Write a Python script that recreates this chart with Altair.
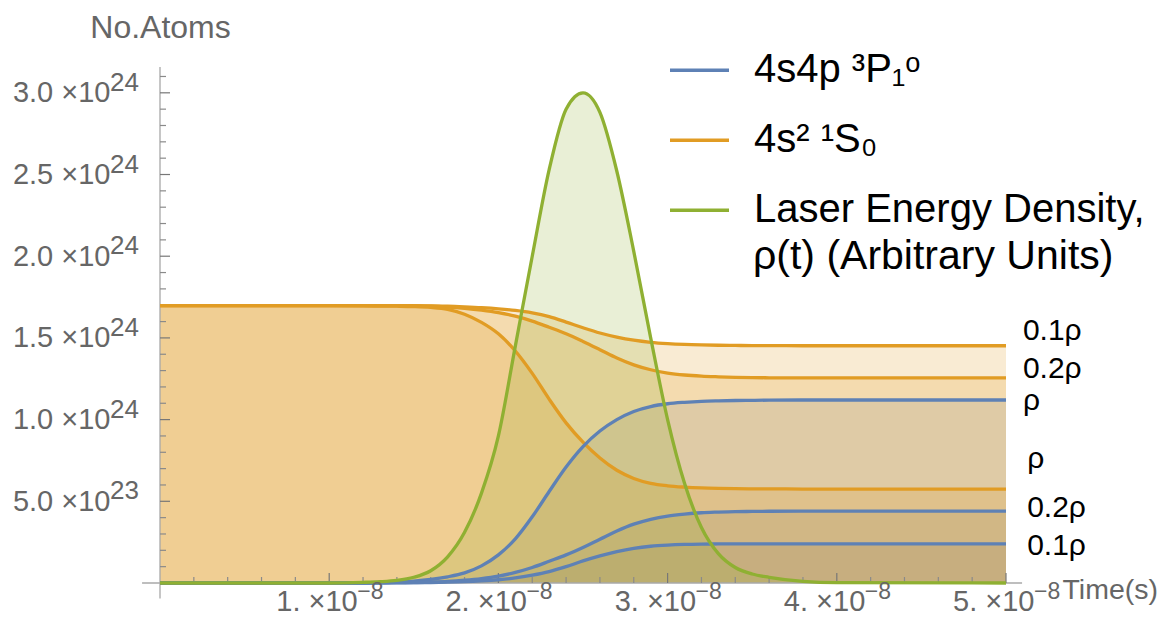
import altair as alt
import pandas as pd

# ---------------- data ----------------
# time grid, in units of 1e-8 s
t_grid = [0, 1.0, 1.2, 1.3, 1.4, 1.5, 1.6, 1.7, 1.8, 1.9, 2.0, 2.1, 2.2, 2.3, 2.4,
          2.5, 2.6, 2.7, 2.8, 2.9, 3.0, 3.1, 3.2, 3.3, 3.4, 3.5, 3.6, 3.8, 4.0, 5.0]

# number of atoms, in units of 1e24
orange_rho = [1.697, 1.697, 1.696, 1.695, 1.694, 1.692, 1.687, 1.675, 1.645, 1.595,
              1.525, 1.42, 1.283, 1.125, 0.98, 0.862, 0.765, 0.69, 0.64, 0.61,
              0.595, 0.587, 0.582, 0.579, 0.577, 0.576, 0.576, 0.575, 0.575, 0.575]
orange_02 = [1.697, 1.697, 1.697, 1.697, 1.697, 1.696, 1.694, 1.689, 1.681, 1.67,
             1.655, 1.633, 1.603, 1.565, 1.525, 1.478, 1.428, 1.377, 1.335, 1.305,
             1.285, 1.273, 1.266, 1.262, 1.259, 1.257, 1.256, 1.255, 1.255, 1.255]
orange_01 = [1.697, 1.697, 1.697, 1.697, 1.697, 1.697, 1.696, 1.694, 1.69, 1.685,
             1.678, 1.668, 1.653, 1.63, 1.597, 1.562, 1.53, 1.505, 1.486, 1.473,
             1.465, 1.46, 1.457, 1.455, 1.454, 1.453, 1.453, 1.452, 1.452, 1.452]
blue_rho = [0, 0, 0.001, 0.003, 0.006, 0.012, 0.022, 0.038, 0.062, 0.105,
            0.172, 0.27, 0.405, 0.56, 0.71, 0.835, 0.93, 1.0, 1.05, 1.08,
            1.097, 1.106, 1.112, 1.115, 1.117, 1.118, 1.119, 1.12, 1.12, 1.12]
blue_02 = [0, 0, 0, 0.001, 0.002, 0.003, 0.006, 0.01, 0.017, 0.027,
           0.042, 0.065, 0.095, 0.133, 0.172, 0.218, 0.268, 0.318, 0.36, 0.39,
           0.41, 0.422, 0.43, 0.434, 0.437, 0.438, 0.439, 0.44, 0.44, 0.44]
blue_01 = [0, 0, 0, 0, 0.001, 0.002, 0.003, 0.005, 0.008, 0.013,
           0.02, 0.031, 0.048, 0.07, 0.1, 0.135, 0.166, 0.192, 0.212, 0.225,
           0.232, 0.236, 0.238, 0.239, 0.24, 0.24, 0.24, 0.24, 0.24, 0.24]
laser = [0, 0, 0.004, 0.008, 0.016, 0.035, 0.075, 0.16, 0.31, 0.55,
         0.9, 1.45, 2.0, 2.53, 2.9, 3.0, 2.88, 2.52, 2.03, 1.5,
         1.0, 0.61, 0.34, 0.18, 0.095, 0.055, 0.035, 0.01, 0.002, 0]

state_blue = "4s4p ³P₁ᵒ"
state_orange = "4s² ¹S₀"
state_green = "Laser Energy Density,"
green_line2 = "ρ(t) (Arbitrary Units)"

# end-of-line annotations
label_text = ["0.1ρ", "0.2ρ", "ρ", "ρ", "0.2ρ", "0.1ρ"]
label_t = [5.10, 5.10, 5.10, 5.125, 5.125, 5.125]        # 1e-8 s
label_v = [1.542, 1.31, 1.111, 0.756, 0.459, 0.226]       # 1e24

# axis ticks and tick-label exponents
x_tick_labels = [1, 2, 3, 4, 5]                            # 1e-8 s
x_tick_exp = ["−8", "−8", "−8", "−8", "−8"]
x_minor_ticks = [0.2, 0.4, 0.6, 0.8, 1.2, 1.4, 1.6, 1.8, 2.2, 2.4, 2.6, 2.8,
                 3.2, 3.4, 3.6, 3.8, 4.2, 4.4, 4.6, 4.8]
y_tick_labels = [0.5, 1.0, 1.5, 2.0, 2.5, 3.0]             # 1e24
y_tick_exp = ["23", "24", "24", "24", "24", "24"]
y_minor_ticks = [0.1, 0.2, 0.3, 0.4, 0.6, 0.7, 0.8, 0.9, 1.1, 1.2, 1.3, 1.4,
                 1.6, 1.7, 1.8, 1.9, 2.1, 2.2, 2.3, 2.4, 2.6, 2.7, 2.8, 2.9, 3.1]

# ---------------- tables ----------------
series = [
    ("b1", state_blue, blue_rho),
    ("b02", state_blue, blue_02),
    ("b01", state_blue, blue_01),
    ("o01", state_orange, orange_01),
    ("o02", state_orange, orange_02),
    ("o1", state_orange, orange_rho),
    ("g", state_green, laser),
]
rows = []
for name, state, vals in series:
    for t, v in zip(t_grid, vals):
        rows.append({"t": t * 1e-8, "v": v * 1e24, "series": name, "state": state})
df = pd.DataFrame(rows)

df_lab = pd.DataFrame({"t": [x * 1e-8 for x in label_t],
                       "v": [y * 1e24 for y in label_v],
                       "text": label_text})
df_xmaj = pd.DataFrame({"t": [x * 1e-8 for x in x_tick_labels], "exp": x_tick_exp})
df_xmin = pd.DataFrame({"t": [x * 1e-8 for x in x_minor_ticks]})
df_ymaj = pd.DataFrame({"v": [y * 1e24 for y in y_tick_labels], "exp": y_tick_exp})
df_ymin = pd.DataFrame({"v": [y * 1e24 for y in y_minor_ticks]})
one = pd.DataFrame({"a": [0]})

# ---------------- styling ----------------
FONT = "Liberation Sans"
GRAY = "#666666"
AXIS_GRAY = "#a8a8a8"
BLUE, ORANGE, GREEN = "#5E81B5", "#E19C24", "#8FB032"
W, H = 846, 516

xscale = alt.Scale(domain=[0, 5e-8], nice=False, zero=False)
yscale = alt.Scale(domain=[0, 3.158e24], nice=False)
color_scale = alt.Scale(domain=[state_blue, state_orange, state_green],
                        range=[BLUE, ORANGE, GREEN])

x_axis = alt.Axis(
    values=[x * 1e-8 for x in x_tick_labels],
    labelExpr="format(datum.value * 1e8, '.0f') + '. ×10'",
    labelAlign="right", labelOffset=28,
    title="Time(s)", titleX=902, titleY=15, titleAlign="left",
    titleBaseline="alphabetic", titleFont=FONT, titleFontSize=28.5,
    titleFontWeight="normal", titleColor=GRAY,
    labelFont=FONT, labelFontSize=29, labelColor=GRAY, labelPadding=4,
    labelFlush=False, labelOverlap=False, labelBound=False,
    ticks=False, tickSize=0, domain=False, grid=False,
)
y_axis = alt.Axis(
    values=[y * 1e24 for y in y_tick_labels],
    labelExpr="datum.value < 9e23 ? '5.0 ×10' : format(datum.value / 1e24, '.1f') + ' ×10'",
    title="No.Atoms", titleAngle=0, titleX=0, titleY=-30, titleAlign="center",
    titleBaseline="alphabetic", titleFont=FONT, titleFontSize=32,
    titleFontWeight="normal", titleColor=GRAY,
    labelFont=FONT, labelFontSize=29, labelColor=GRAY, labelPadding=50,
    labelFlush=False, labelOverlap=False, labelBound=False,
    ticks=False, tickSize=0, domain=False, grid=False,
)

legend = alt.Legend(
    orient="none", legendX=508, legendY=-31.5, title=None,
    symbolType="stroke", symbolSize=3481, symbolStrokeWidth=3.3,
    labelFont=FONT, labelFontSize=40, labelColor="black", labelOffset=23,
    clipHeight=69.5, rowPadding=0, padding=0, labelLimit=800,
)


def X(field="t:Q"):
    return alt.X(field, scale=xscale, axis=x_axis)


def Y(field="v:Q"):
    return alt.Y(field, scale=yscale, axis=y_axis, stack=None)


def area_layer(state, colour):
    return alt.Chart(df).transform_filter(
        alt.datum.state == state
    ).mark_area(color=colour, opacity=0.2, interpolate="monotone").encode(
        x=X(), y=Y(), detail="series:N")


def line_layer(state):
    return alt.Chart(df).transform_filter(
        alt.datum.state == state
    ).mark_line(strokeWidth=3.3, interpolate="monotone").encode(
        x=X(), y=Y(),
        color=alt.Color("state:N", scale=color_scale, legend=legend),
        detail="series:N",
    )


x_axis_line = alt.Chart(one).mark_rule(color=AXIS_GRAY, strokeWidth=1.3).encode(
    x=alt.X(datum=-0.106e-8, scale=xscale, axis=x_axis), x2=alt.X2(datum=5.095e-8),
    y=alt.Y(datum=0, scale=yscale, axis=y_axis),
)
y_axis_line = alt.Chart(one).mark_rule(color=AXIS_GRAY, strokeWidth=1.3).encode(
    y=alt.Y(datum=-0.095e24, scale=yscale, axis=y_axis), y2=alt.Y2(datum=3.158e24),
    x=alt.X(datum=0, scale=xscale, axis=x_axis),
)

x_major = alt.Chart(df_xmaj).mark_rule(color="#777777", strokeWidth=1.2).encode(
    x=X(), y=alt.value(H), y2=alt.value(H - 10))
x_minor = alt.Chart(df_xmin).mark_rule(color="#8a8a8a", strokeWidth=1.2).encode(
    x=X(), y=alt.value(H), y2=alt.value(H - 6))
y_major = alt.Chart(df_ymaj).mark_rule(color="#777777", strokeWidth=1.2).encode(
    y=Y(), x=alt.value(0), x2=alt.value(10))
y_minor = alt.Chart(df_ymin).mark_rule(color="#8a8a8a", strokeWidth=1.2).encode(
    y=Y(), x=alt.value(0), x2=alt.value(6))

# exponents of the tick labels (written as raised text after the mantissa)
x_exp = alt.Chart(df_xmaj).mark_text(
    align="left", baseline="alphabetic", dx=28, font=FONT, fontSize=23, color=GRAY
).encode(x=X(), y=alt.value(H + 16), text="exp:N")
y_exp = alt.Chart(df_ymaj).mark_text(
    align="left", baseline="middle", dy=-10, font=FONT, fontSize=26, color=GRAY
).encode(y=Y(), x=alt.value(-50), text="exp:N")

end_labels = alt.Chart(df_lab).mark_text(
    align="left", baseline="middle", font=FONT, fontSize=30, color="black"
).encode(x=X(), y=Y(), text="text:N")

legend_line2 = alt.Chart(one).mark_text(
    align="left", baseline="alphabetic", font=FONT, fontSize=41, color="black"
).encode(x=alt.value(593), y=alt.value(202), text=alt.value(green_line2))

chart = alt.layer(
    area_layer(state_blue, BLUE), area_layer(state_orange, ORANGE),
    area_layer(state_green, GREEN),
    x_axis_line, y_axis_line, x_major, x_minor, y_major, y_minor,
    line_layer(state_orange), line_layer(state_blue), line_layer(state_green),
    x_exp, y_exp, end_labels, legend_line2,
).properties(
    width=W, height=H,
    autosize=alt.AutoSizeParams(type="none"),
    padding={"left": 160, "top": 67, "right": 155, "bottom": 45},
    background="white",
).configure_view(stroke=None)

chart.save("out.html", embed_options={"renderer": "svg", "actions": False})
